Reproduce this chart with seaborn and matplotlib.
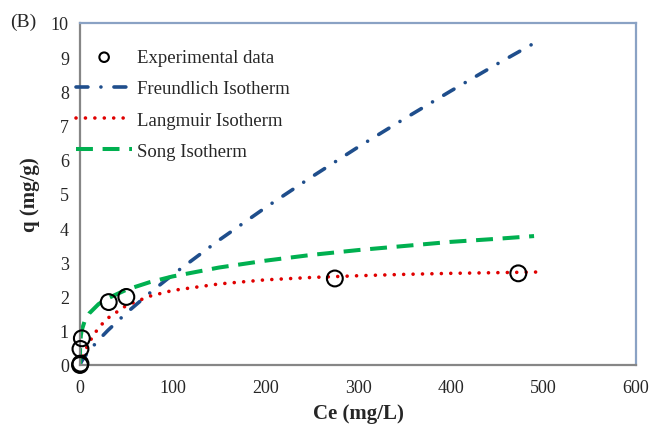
import numpy as np
import pandas as pd
import matplotlib
matplotlib.use("Agg")
import matplotlib.pyplot as plt
import seaborn as sns

# Experimental data
exp_ce = [0, 0.5, 0.5, 2, 31, 50, 275, 473]
exp_q = [0.0, 0.04, 0.47, 0.78, 1.84, 1.99, 2.53, 2.68]

# Freundlich isotherm curve
fr_ce = [0, 0.5, 2, 5, 10, 20, 30, 50, 75, 100, 150, 200, 250, 300, 350, 400, 450, 492]
fr_q = [0.0, 0.04, 0.12, 0.24, 0.42, 0.73, 1.01, 1.52, 2.10, 2.64, 3.65, 4.60, 5.50, 6.37, 7.20, 8.01, 8.80, 9.44]

# Langmuir isotherm curve
la_ce = [0, 2, 5, 10, 20, 30, 50, 75, 100, 150, 200, 250, 300, 350, 400, 450, 497]
la_q = [0.0, 0.16, 0.38, 0.67, 1.09, 1.37, 1.74, 2.01, 2.18, 2.37, 2.49, 2.56, 2.61, 2.65, 2.68, 2.70, 2.72]

# Song isotherm curve
so_ce = [0, 0.05, 0.3, 1, 2, 5, 10, 20, 30, 50, 75, 100, 150, 200, 250, 300, 350, 400, 450, 490]
so_q = [0.0, 0.43, 0.66, 0.88, 1.03, 1.28, 1.51, 1.78, 1.95, 2.20, 2.42, 2.59, 2.85, 3.05, 3.22, 3.36, 3.48, 3.60, 3.69, 3.77]

x_ticks = [0, 100, 200, 300, 400, 500, 600]
y_ticks = list(range(0, 11))

sns.set_style("white")
plt.rcParams['font.family'] = ['Liberation Serif', 'DejaVu Serif']

fig = plt.figure(figsize=(6.53, 4.27), dpi=100)
ax = fig.add_axes([80/653, 1-366/427, (636-80)/653, (366-24)/427])

df_fr = pd.DataFrame({"Ce": fr_ce, "q": fr_q})
df_la = pd.DataFrame({"Ce": la_ce, "q": la_q})
df_so = pd.DataFrame({"Ce": so_ce, "q": so_q})
df_ex = pd.DataFrame({"Ce": exp_ce, "q": exp_q})

lw = 2.6
sns.lineplot(data=df_fr, x="Ce", y="q", ax=ax, color="#1F4E8C", linewidth=lw,
             label="Freundlich Isotherm", sort=False)
sns.lineplot(data=df_la, x="Ce", y="q", ax=ax, color="#E00000", linewidth=lw,
             label="Langmuir Isotherm", sort=False)
sns.lineplot(data=df_so, x="Ce", y="q", ax=ax, color="#00B050", linewidth=2.9,
             label="Song Isotherm", sort=False)

lines = ax.get_lines()
lines[0].set_dashes([3.3, 3.6, 0.01, 3.6])
lines[0].set_dash_capstyle("round")
lines[1].set_dashes([0.01, 2.6])
lines[1].set_dash_capstyle("round")
lines[2].set_dashes([4.2, 2.4])
lines[2].set_dash_capstyle("butt")

sns.scatterplot(data=df_ex, x="Ce", y="q", ax=ax, marker="o", s=130,
                facecolors="none", edgecolor="black", linewidth=1.5,
                label="Experimental data", zorder=5, clip_on=False)

ax.set_xlim(0, 600)
ax.set_ylim(0, 10)
ax.set_xticks(x_ticks)
ax.set_yticks(y_ticks)
ax.tick_params(axis="x", length=0, labelsize=13, pad=10)
ax.tick_params(axis="y", length=0, labelsize=13, pad=8)
ax.set_xlabel("Ce (mg/L)", fontsize=15, fontweight="bold", labelpad=5)
ax.set_ylabel("q (mg/g)", fontsize=15, fontweight="bold", labelpad=8)

for s in ["left", "bottom"]:
    ax.spines[s].set_color("#868686")
    ax.spines[s].set_linewidth(1.6)
for s in ["top", "right"]:
    ax.spines[s].set_color("#8AA2C4")
    ax.spines[s].set_linewidth(1.6)

handles, labels = ax.get_legend_handles_labels()
order = [labels.index(l) for l in ["Experimental data", "Freundlich Isotherm",
                                    "Langmuir Isotherm", "Song Isotherm"]]
leg = ax.legend([handles[i] for i in order], [labels[i] for i in order],
                loc="upper left", bbox_to_anchor=(76/653, 1-50/427 + 0.0),
                bbox_transform=fig.transFigure, frameon=False,
                fontsize=13.5, handlelength=3.0, handletextpad=0.25,
                labelspacing=0.75, borderaxespad=0, borderpad=0,
                markerscale=0.6)
leg.set_bbox_to_anchor((76/653, 1-42/427 - 8/427), transform=fig.transFigure)

fig.text(10/653, 1-22/427, "(B)", fontsize=14, va="center", ha="left")

fig.savefig("out.png", dpi=100)
